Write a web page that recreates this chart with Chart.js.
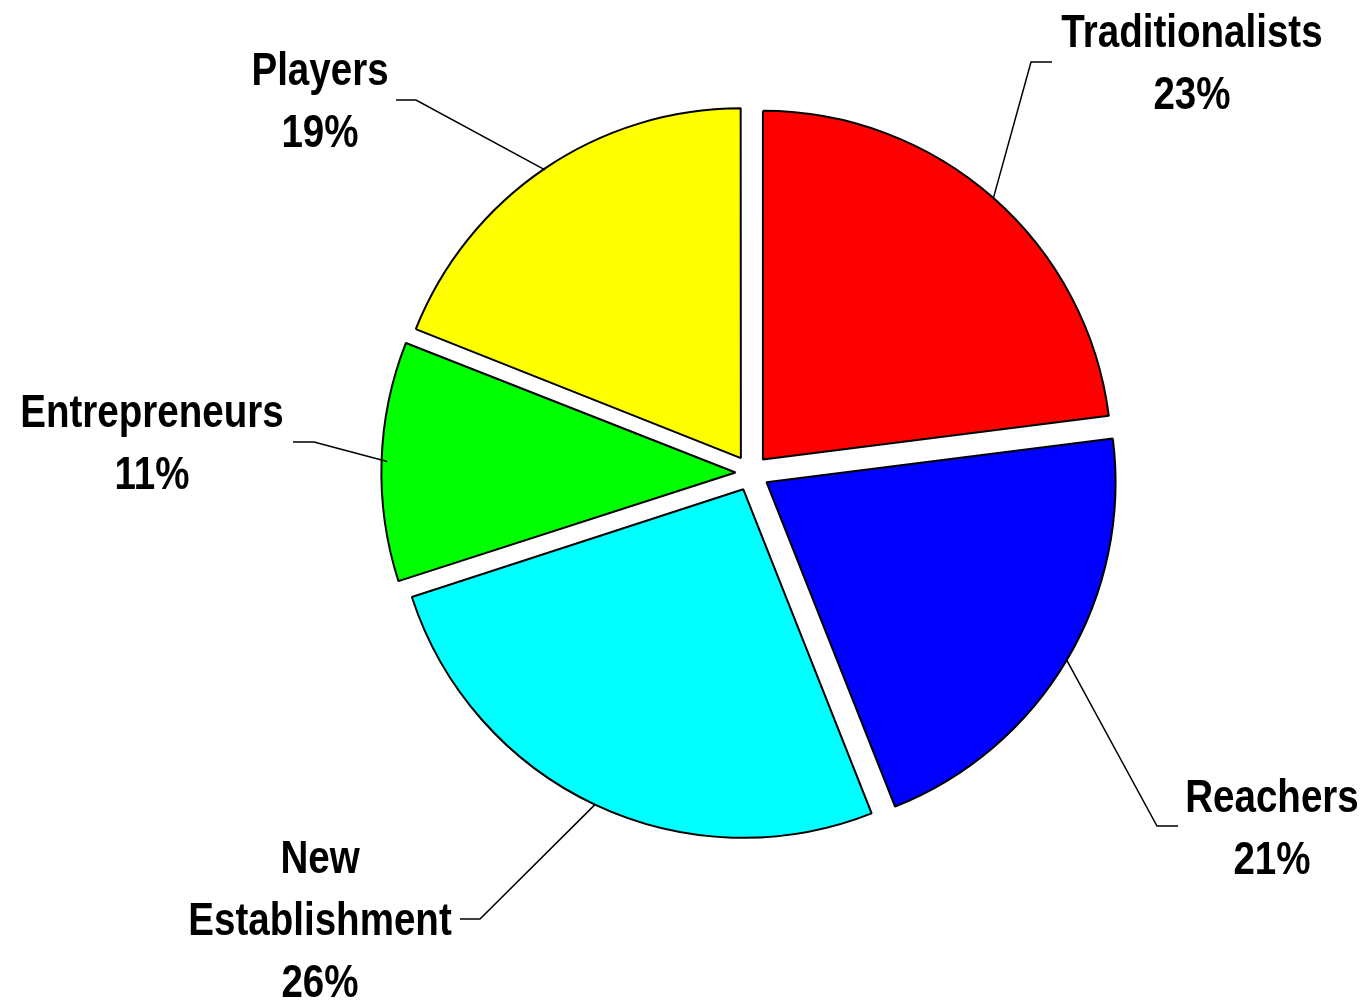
<!DOCTYPE html>
<html>
<head>
<meta charset="utf-8">
<script src="https://cdn.jsdelivr.net/npm/chart.js@4.4.1/dist/chart.umd.min.js"></script>
<style>
  html, body { margin: 0; padding: 0; background: #ffffff; }
  #wrap { width: 1369px; height: 1004px; }
</style>
</head>
<body>
<div id="wrap"><canvas id="pieChart" width="1369" height="1004"></canvas></div>
<script>
// segments, clockwise from 12 o'clock
const segments = ['Traditionalists', 'Reachers', 'New Establishment', 'Entrepreneurs', 'Players'];
const shares = [23, 21, 26, 11, 19];
const labelLines = [['Traditionalists'], ['Reachers'], ['New', 'Establishment'], ['Entrepreneurs'], ['Players']];
const sliceColors = ['#ff0000', '#0000ff', '#00ffff', '#00ff00', '#ffff00'];
// chart.js v4 moves an arc by offset / 4 and grows narrow slices a bit, so the small one gets less
const sliceOffsets = [72, 72, 72, 62, 72];

// label placement relative to the pie centre (elbow, line end, text centre x, first baseline)
const labelLayout = [
    {elbow: [280, -411], end: [301, -411], tx: 441, ty: -426},
    {elbow: [406, 353], end: [427, 353], tx: 521, ty: 339},
    {elbow: [-271, 446], end: [-291, 446], tx: -431, ty: 400},
    {elbow: [-437, -31], end: [-458, -31], tx: -599, ty: -46},
    {elbow: [-335, -373], end: [-355, -373], tx: -431, ty: -388}
];

// no narrow font installed: squeeze Liberation Sans bold like Arial Narrow
const labelFont = "bold 47px 'Liberation Sans', Arial, sans-serif";
const narrow = 0.82;
const lineHeight = 62;

const leaderLabels = {
    id: 'leaderLabels',
    afterDraw(chart) {
        const ctx = chart.ctx;
        const meta = chart.getDatasetMeta(0);
        meta.data.forEach((arc, i) => {
            const p = arc.getProps(['x', 'y', 'startAngle', 'endAngle', 'outerRadius']);
            const r = p.outerRadius + arc.options.offset / 4;
            const mid = (p.startAngle + p.endAngle) / 2;
            const sx = p.x + Math.cos(mid) * r;
            const sy = p.y + Math.sin(mid) * r;
            const lay = labelLayout[i];

            ctx.save();
            ctx.strokeStyle = '#000000';
            ctx.lineWidth = 1.5;
            ctx.beginPath();
            ctx.moveTo(sx, sy);
            ctx.lineTo(p.x + lay.elbow[0], p.y + lay.elbow[1]);
            ctx.lineTo(p.x + lay.end[0], p.y + lay.end[1]);
            ctx.stroke();

            ctx.fillStyle = '#000000';
            ctx.font = labelFont;
            ctx.textAlign = 'center';
            ctx.textBaseline = 'alphabetic';
            const lines = labelLines[i].concat([shares[i] + '%']);
            lines.forEach((t, k) => {
                ctx.save();
                ctx.translate(p.x + lay.tx, p.y + lay.ty + k * lineHeight);
                ctx.scale(narrow, 1);
                ctx.fillText(t, 0, 0);
                ctx.restore();
            });
            ctx.restore();
        });
    }
};

const ctx = document.getElementById('pieChart').getContext('2d');
const chart = new Chart(ctx, {
    type: 'pie',
    data: {
        labels: segments,
        datasets: [{
            data: shares,
            backgroundColor: sliceColors,
            borderColor: '#000000',
            borderWidth: 2,
            offset: sliceOffsets
        }]
    },
    options: {
        responsive: false,
        animation: false,
        layout: {
            padding: {left: 300, right: 167, top: 87.5, bottom: 145.5}
        },
        plugins: {
            legend: {display: false},
            tooltip: {enabled: false}
        }
    },
    plugins: [leaderLabels]
});
</script>
</body>
</html>
